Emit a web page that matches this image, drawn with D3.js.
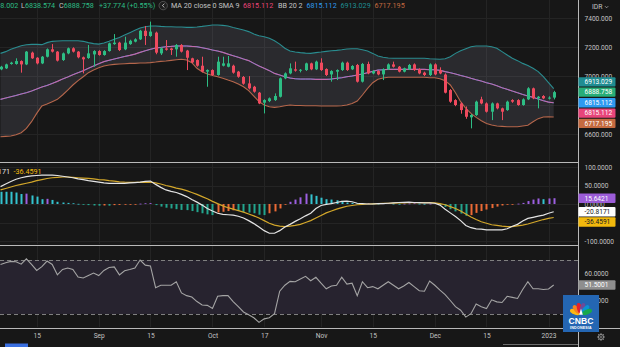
<!DOCTYPE html>
<html>
<head>
<meta charset="utf-8">
<script src="https://cdn.jsdelivr.net/npm/d3@7"></script>
<style>
  html, body { margin: 0; padding: 0; background: #171717; }
  svg { display: block; }
</style>
</head>
<body>
<svg id="chart" width="620" height="347"></svg>
<script>
// ---------------- data: daily candles, Aug 2022 - Jan 2023 ----------------
const open = [7046,7053,7083,7083,7103,7080,7161,7126,7087,7133, 7184,7168,7110,7156,7191,7168,7129,7124,7149,7172,
  7145,7172,7220,7230,7184,7220,7237,7253,7312,7276, 7299,7156,7190,7190,7184,7214,7175,7122,7110,7071,
  7030,7041,7007,7071,7064,7071,7030,6993,6949,6926, 6885,6816,6827,6834,6857,6984,7018,7046,7037,7041,
  7087,7046,7092,7048,7011,7030,7041,7092,7046,7076, 6961,7083,7018,7034,7011,7046,7080,7064,7030,7046,
  7080,7046,7023,7007,7080,7040,7010,6903,6834,6811, 6770,6715,6731,6839,6811,6754,6811,6777,6765,6834,
  6834,6800,6839,6915,6846,6862,6846,6851];
const high = [7070,7085,7098,7122,7108,7172,7168,7130,7138,7190, 7220,7172,7162,7196,7198,7172,7134,7214,7178,7178,
  7178,7230,7289,7236,7271,7250,7260,7318,7345,7375, 7306,7198,7248,7195,7220,7220,7180,7126,7115,7133,
  7046,7046,7133,7133,7138,7078,7035,7000,6999,6932, 6890,6840,6852,6880,6990,7025,7087,7099,7048,7092,
  7092,7106,7122,7053,7040,7046,7099,7099,7075,7083, 7090,7099,7040,7040,7053,7087,7099,7069,7058,7083,
  7087,7053,7030,7087,7087,7060,7018,6910,6840,6818, 6790,6738,6830,6857,6818,6818,6816,6782,6830,6840,
  6840,6846,6923,6920,6862,6868,6860,6898.002];
const low = [7040,7048,7078,7078,7023,7075,7118,7080,7082,7128, 7162,7100,7104,7150,7162,7122,7018,7118,7064,7140,
  7140,7168,7215,7172,7178,7215,7232,7248,7214,7270, 7150,7145,7175,7145,7133,7162,7041,7088,7064,7025,
  6926,7000,7002,7066,7060,7016,6988,6940,6908,6885, 6806,6742,6820,6828,6852,6978,7012,7030,7025,7035,
  7040,7041,7035,7000,6961,6972,7035,7035,7041,6955, 6955,7012,7012,7005,6972,7041,7058,7025,7025,7041,
  7035,7012,7000,7000,7005,7012,6880,6815,6792,6740, 6705,6639,6725,6805,6748,6696,6770,6696,6760,6815,
  6795,6795,6834,6840,6777,6840,6838,6838.574];
const close = [7064,7080,7092,7103,7080,7168,7122,7087,7133,7184, 7168,7106,7156,7191,7168,7129,7115,7156,7172,7145,
  7172,7225,7230,7179,7230,7243,7253,7312,7276,7306, 7161,7191,7181,7179,7214,7168,7126,7094,7071,7030,
  7041,7007,7099,7087,7087,7023,6995,6947,6915,6892, 6811,6834,6846,6862,6984,7018,7053,7037,7043,7087,
  7046,7099,7041,7007,7034,7041,7092,7041,7069,6961, 7083,7018,7034,7011,7046,7080,7064,7030,7053,7076,
  7041,7018,7007,7080,7011,7018,6885,6823,6800,6765, 6719,6731,6823,6811,6754,6811,6777,6754,6823,6823,
  6800,6839,6915,6846,6857,6846,6850.984,6888.758];

// Bollinger Bands (20, 2); the basis is also the MA 20 line
const bbUpper = [7156,7168,7184,7197,7209,7216,7218,7218,7216,7230, 7239,7241,7243,7243,7243,7243,7239,7230,7223,7220,
  7227,7239,7253,7266,7283,7299,7315,7331,7340,7345, 7345,7342,7340,7340,7338,7338,7335,7335,7338,7342,
  7347,7352,7352,7349,7345,7335,7326,7317,7306,7289, 7278,7271,7260,7243,7220,7191,7172,7165,7161,7158,
  7156,7161,7165,7170,7174,7177,7181,7186,7188,7188, 7181,7172,7156,7138,7129,7124,7122,7122,7122,7122,
  7122,7122,7122,7119,7117,7115,7119,7133,7156,7174, 7188,7202,7207,7207,7207,7202,7191,7168,7145,7122,
  7106,7087,7073,7053,7030,6995,6954,6913.029];
const bbBasis = [6839,6848,6857,6866,6876,6885,6896,6910,6924,6935, 6949,6963,6979,6993,7009,7023,7037,7053,7069,7085,
  7099,7108,7117,7126,7135,7142,7151,7163,7174,7184, 7193,7197,7202,7204,7207,7207,7207,7204,7202,7195,
  7188,7179,7172,7163,7151,7140,7129,7117,7106,7087, 7069,7053,7037,7018,7007,6995,6986,6981,6979,6979,
  6979,6977,6977,6977,6979,6984,6988,6995,7000,7007, 7014,7023,7032,7041,7043,7046,7046,7046,7046,7046,
  7046,7046,7046,7043,7043,7039,7030,7023,7014,7004, 6995,6984,6974,6965,6954,6945,6933,6919,6908,6896,
  6885,6873,6862,6853,6841,6830,6820,6815.112];
const bbLower = [6581,6584,6586,6595,6609,6639,6685,6742,6793,6807, 6823,6839,6869,6903,6938,6968,6995,7023,7041,7057,
  7069,7076,7080,7083,7085,7087,7087,7090,7090,7092, 7096,7101,7103,7108,7112,7115,7110,7092,7053,7030,
  7014,7004,6995,6984,6972,6961,6945,6926,6899,6862, 6823,6800,6788,6784,6788,6795,6800,6797,6797,6795,
  6795,6795,6793,6793,6793,6793,6795,6800,6811,6827, 6869,6915,6954,6977,6986,6991,6991,6991,6991,6991,
  6991,6991,6991,6988,6988,6981,6968,6938,6885,6823, 6777,6742,6715,6692,6673,6662,6655,6653,6650,6650,
  6650,6655,6660,6685,6706,6717,6719,6717.195];
const ma20 = bbBasis;

// MACD (12, 26, 9)
const macdLine = [47,54,61,67,71,74,76,77,78,78, 78,77,75,73,71,68,66,63,61,59, 57,56,56,56,56,57,58,59,61,62,
  53,45,38,34,31,26,20,12,5,-3, -12,-19,-25,-28,-29,-30,-33,-38,-45,-53, -62,-72,-79,-79,-72,-62,-55,-47,-40,-32,
  -25,-12,-4,-1,1,4,7,8,6,2, 1,0,0,1,1,2,3,4,4.5,5, 4,3.5,3,3,2,-3,-14,-24,-34,-45,
  -58,-64,-67,-68,-70,-70,-70,-70,-67,-60, -55,-46,-39,-36,-33,-30,-25,-20.8171];
const signalLine = [38,42,46,50,53,56,59,63,66,69, 71,72,73,73,72,71,70,69,68,66, 65,63,62,60,59,58.5,58.5,58.5,58.5,59,
  57,54,50,47,43,40,36,31,26,20, 14,7,1,-5,-10,-14,-18,-22,-27,-32, -38,-45,-52,-57,-60,-61,-60,-58,-55,-50,
  -45,-38,-31,-24,-19,-14,-10,-6,-4,-2, -1,0,0.5,1,1.5,2,2.5,3,3,3.5, 3.5,3.5,3.5,3.5,3,1,-2,-7,-12,-19,
  -27,-35,-42,-48,-52,-56,-58,-60,-61,-61, -59,-57,-54,-50,-46,-42,-39,-36.4591];
const macdHist = [33,33,33,31,27,28,23,20,13,14, 11,6,4,3,2,0.5,-1,-3,-4,-4.5, -4,-4.5,-3,-2.5,-2,-1,-0.5,1,2,2.5,
  -3,-7,-10,-12,-14,-16,-16.5,-19,-22,-25, -28,-30,-23,-21,-19,-17,-19,-22,-23,-25, -29,-30,-25,-20,-12,-1,6,12,18,28,
  26,22,17,13,12,10,7,4,3,2, 1,2,1.5,1,2,2.5,1,0.5,1,1.5, 2,1,0.5,1,2,-2,-8,-14,-20,-26,
  -32,-30,-24,-19,-15,-11,-7,-4,-1,-0.5, 1,3,8,12,15,13,15,15.6421];

// RSI (14)
const rsi = [66.7,68,69,68.7,66.9,70.8,66.7,62.3,65.1,69.2, 66.7,59,63,64.1,63,57.4,56.7,58.5,60.3,58.5,
  62.3,64.4,64.9,59,62,63,64.1,70,66.2,65.6, 49.5,51.3,51.3,51.3,53.8,45.6,43.6,42.6,39.2,36.7,
  36.4,34.1,43.1,43.6,43.6,39.2,35.4,31.5,29.5,27.2, 23.8,26.4,27.2,30.2,46.9,51.3,54.2,53.9,55.9,57.9,
  54.6,57.2,52.8,48.7,50.8,51.3,57.2,52.1,52.8,43.6, 53.9,49.5,50.3,48.7,51.3,53.9,51.3,48.7,50.8,53.3,
  50.3,47.2,46.9,54.4,51.3,47.7,44.4,40,35.4,32.8, 27.7,30.2,37.4,35.4,34.1,40.5,39,38.5,43.1,42.3,
  41.5,48.2,53.9,48.7,48.7,48.2,48.5,51.5001];

// time axis labels and the candle each one sits under
const timeLabels = ["15", "Sep", "15", "Oct", "17", "Nov", "15", "Dec", "15", "2023"];
const timeLabelIndex = [7, 19, 29, 41, 51, 62, 72, 84, 94, 106];
const priceTicks = [7400, 7200, 7000, 6800, 6600];
const macdTicks = [100, 50, 0, -50, -100];
const rsiTicks = [60, 40];
const rsiBands = [70, 30];

// ---------------- layout & style ----------------
const W = 620, H = 347;
const AXIS_X = 578;
const PANE = { price: [0, 161], macd: [163, 244], rsi: [246, 327] };
const TIME_Y = 328;
const FONT = "Roboto, 'Liberation Sans', Arial, sans-serif";
const C = {
  bg: "#171717", grid: "#242424", sep: "#b9b9b9", text: "#c4c4c4",
  up: "#2dbd84", down: "#ef4a5e",
  bbUpper: "#2a8c8f", bbLower: "#b5664b", bbFill: "rgba(165,165,190,0.14)",
  basis: "#2196f3", ma: "#e8629e",
  maLabel: "#e8457a", basisLabel: "#2e9af0", upperLabel: "#1f8d92", lowerLabel: "#c46a40", closeLabel: "#27ad78",
  macd: "#e4e4e4", signal: "#d3a72a", signalLabel: "#f2b90d", histLabel: "#9b5cd8",
  histUpRise: "#9c5fe0", histUpFall: "#34c3cf", histDnFall: "#23a58e", histDnRise: "#ec6a35",
  rsi: "#a4a4a4", rsiFill: "#27232f", rsiBand: "#808080", rsiLabel: "#8e8e8e"
};

const svg = d3.select("#chart");
const last = close.length - 1;

const x = d3.scaleLinear().domain([0, last]).range([0.51, 0.51 + 5.17 * last]);
const yP = d3.scaleLinear().domain([6414, 7524]).range([PANE.price[1], PANE.price[0]]);
const yM = d3.scaleLinear().domain([-100, 100]).range([241, 167]);
const yR = d3.scaleLinear().domain([30, 70]).range([314, 260]);
const px = i => Math.round(x(i)) + 0.5;
const idx = d3.range(close.length);

svg.append("rect").attr("width", W).attr("height", H).attr("fill", C.bg);

const defs = svg.append("defs");
Object.entries(PANE).forEach(([k, [a, b]]) => {
  defs.append("clipPath").attr("id", "clip-" + k)
    .append("rect").attr("x", 0).attr("y", a).attr("width", AXIS_X).attr("height", b - a);
});

// ---------------- grid ----------------
const grid = svg.append("g").attr("stroke", C.grid).attr("shape-rendering", "crispEdges");
timeLabelIndex.forEach(i => {
  Object.values(PANE).forEach(([a, b]) => {
    grid.append("line").attr("x1", px(i)).attr("x2", px(i)).attr("y1", a).attr("y2", b);
  });
});
const hGrid = (scale, ticks) => ticks.forEach(v => {
  const y = Math.round(scale(v)) + 0.5;
  grid.append("line").attr("x1", 0).attr("x2", AXIS_X).attr("y1", y).attr("y2", y);
});
hGrid(yP, priceTicks);
hGrid(yM, macdTicks);

// ---------------- price pane ----------------
const gPrice = svg.append("g").attr("clip-path", "url(#clip-price)");

gPrice.append("path").datum(idx)
  .attr("fill", C.bbFill)
  .attr("d", d3.area().x(i => x(i)).y0(i => yP(bbLower[i])).y1(i => yP(bbUpper[i])));

const priceLine = arr => d3.line().x(i => x(i)).y(i => yP(arr[i]));
gPrice.append("path").datum(idx).attr("fill", "none").attr("stroke", C.bbUpper).attr("stroke-width", 1.1).attr("d", priceLine(bbUpper));
gPrice.append("path").datum(idx).attr("fill", "none").attr("stroke", C.bbLower).attr("stroke-width", 1.1).attr("d", priceLine(bbLower));
gPrice.append("path").datum(idx).attr("fill", "none").attr("stroke", C.basis).attr("stroke-width", 1).attr("d", priceLine(bbBasis));
gPrice.append("path").datum(idx).attr("fill", "none").attr("stroke", C.ma).attr("stroke-opacity", 0.8).attr("stroke-width", 1.1).attr("d", priceLine(ma20));

const candles = gPrice.selectAll("g.candle").data(idx).join("g").attr("class", "candle");
candles.append("line")
  .attr("x1", i => px(i)).attr("x2", i => px(i))
  .attr("y1", i => yP(high[i])).attr("y2", i => yP(low[i]))
  .attr("stroke", i => close[i] >= open[i] ? C.up : C.down).attr("stroke-width", 1);
candles.append("rect")
  .attr("x", i => px(i) - 1.5).attr("width", 3)
  .attr("y", i => yP(Math.max(open[i], close[i])))
  .attr("height", i => Math.max(1, Math.abs(yP(open[i]) - yP(close[i]))))
  .attr("fill", i => close[i] >= open[i] ? C.up : C.down);

// ---------------- MACD pane ----------------
const gMacd = svg.append("g").attr("clip-path", "url(#clip-macd)");
const histColor = i => {
  const h = macdHist[i];
  const rising = i > 0 && h > macdHist[i - 1];
  if (h >= 0) return rising ? C.histUpRise : C.histUpFall;
  return rising ? C.histDnRise : C.histDnFall;
};
gMacd.selectAll("rect.hist").data(idx).join("rect").attr("class", "hist")
  .attr("x", i => px(i) - 1).attr("width", 2)
  .attr("y", i => Math.min(yM(0), yM(macdHist[i])))
  .attr("height", i => Math.max(0.8, Math.abs(yM(macdHist[i]) - yM(0))))
  .attr("fill", histColor);
const macdPath = arr => d3.line().x(i => x(i)).y(i => yM(arr[i]));
gMacd.append("path").datum(idx).attr("fill", "none").attr("stroke", C.signal).attr("stroke-width", 1.2).attr("d", macdPath(signalLine));
gMacd.append("path").datum(idx).attr("fill", "none").attr("stroke", C.macd).attr("stroke-width", 1.2).attr("d", macdPath(macdLine));

// ---------------- RSI pane ----------------
const gRsi = svg.append("g").attr("clip-path", "url(#clip-rsi)");
gRsi.append("rect").attr("x", 0).attr("width", AXIS_X)
  .attr("y", yR(rsiBands[0])).attr("height", yR(rsiBands[1]) - yR(rsiBands[0]))
  .attr("fill", C.rsiFill);
rsiBands.forEach(v => {
  gRsi.append("line").attr("x1", 0).attr("x2", AXIS_X).attr("y1", Math.round(yR(v)) + 0.5).attr("y2", Math.round(yR(v)) + 0.5)
    .attr("stroke", C.rsiBand).attr("stroke-dasharray", "4,3");
});
gRsi.append("path").datum(idx).attr("fill", "none").attr("stroke", C.rsi).attr("stroke-width", 1.1)
  .attr("d", d3.line().x(i => x(i)).y(i => yR(rsi[i])));

// ---------------- separators ----------------
const sep = svg.append("g").attr("stroke", C.sep).attr("shape-rendering", "crispEdges");
[162, 245].forEach(y => sep.append("line").attr("x1", 0).attr("x2", AXIS_X).attr("y1", y + 0.5).attr("y2", y + 0.5));
sep.append("line").attr("x1", 0).attr("x2", W).attr("y1", TIME_Y + 0.5).attr("y2", TIME_Y + 0.5);
sep.append("line").attr("x1", AXIS_X + 0.5).attr("x2", AXIS_X + 0.5).attr("y1", 0).attr("y2", H);

// ---------------- last-value badges: positions pushed apart so they never overlap ----------------
function layoutBadges(items, anchorKey) {
  items.forEach(d => d.pos = d.y);
  const order = items.slice().sort((a, b) => a.y - b.y);
  const gap = 10.3;
  const a = order.findIndex(d => d.key === anchorKey);
  for (let k = a - 1; k >= 0; k--) order[k].pos = Math.min(order[k].pos, order[k + 1].pos - gap);
  for (let k = a + 1; k < order.length; k++) order[k].pos = Math.max(order[k].pos, order[k - 1].pos + gap);
  return order;
}
const priceBadges = layoutBadges([
  { key: "upper", y: yP(bbUpper[last]), text: bbUpper[last].toFixed(3), bg: C.upperLabel },
  { key: "close", y: yP(close[last]), text: close[last].toFixed(3), bg: C.closeLabel },
  { key: "basis", y: yP(bbBasis[last]) - 0.01, text: bbBasis[last].toFixed(3), bg: C.basisLabel },
  { key: "ma", y: yP(ma20[last]), text: ma20[last].toFixed(3), bg: C.maLabel },
  { key: "lower", y: yP(bbLower[last]), text: bbLower[last].toFixed(3), bg: C.lowerLabel }
], "close");
const macdBadges = layoutBadges([
  { key: "hist", y: yM(macdHist[last]), text: macdHist[last].toFixed(4), bg: C.histLabel },
  { key: "macd", y: yM(macdLine[last]), text: macdLine[last].toFixed(4), bg: "#ffffff", fg: "#131722" },
  { key: "signal", y: yM(signalLine[last]), text: signalLine[last].toFixed(4), bg: C.signalLabel, fg: "#131722" }
], "macd");
const rsiBadges = layoutBadges([
  { key: "rsi", y: yR(rsi[last]), text: rsi[last].toFixed(4), bg: C.rsiLabel }
], "rsi");
const allBadges = priceBadges.concat(macdBadges, rsiBadges);

// ---------------- axes (tick labels sitting right under a badge are hidden) ----------------
function rightAxis(scale, ticks, digits) {
  const g = svg.append("g").attr("transform", `translate(${AXIS_X},0)`)
    .call(d3.axisRight(scale).tickValues(ticks).tickFormat(v => v.toFixed(digits)).tickSize(0).tickPadding(6.5));
  g.select(".domain").remove();
  g.attr("font-family", FONT).attr("font-size", 6.6);
  g.selectAll(".tick").filter(v => allBadges.some(b => Math.abs(b.pos - scale(v)) < 4.5)).remove();
  g.selectAll("text").attr("fill", C.text);
}
rightAxis(yP, priceTicks, 3);
rightAxis(yM, macdTicks, 4);
rightAxis(yR, rsiTicks, 4);

const tAxis = svg.append("g").attr("transform", `translate(0,${TIME_Y})`)
  .call(d3.axisBottom(x).tickValues(timeLabelIndex).tickFormat((d, k) => timeLabels[k]).tickSize(0).tickPadding(5.6));
tAxis.select(".domain").remove();
tAxis.attr("font-family", FONT).attr("font-size", 6.6);
tAxis.selectAll("text").attr("fill", C.text);

const gBadge = svg.append("g").attr("font-family", FONT).attr("font-size", 6.6);
allBadges.forEach(d => {
  gBadge.append("rect").attr("x", AXIS_X + 0.5).attr("y", d.pos - 4.7).attr("width", 37).attr("height", 9.4)
    .attr("rx", 1).attr("fill", d.bg);
  gBadge.append("text").attr("x", AXIS_X + 6.5).attr("y", d.pos).attr("dy", "0.35em")
    .attr("fill", d.fg || "#ffffff").text(d.text);
});

// ---------------- legends ----------------
const change = close[last] - close[last - 1];
const pct = change / close[last - 1] * 100;
const hdr = svg.append("g").attr("font-family", FONT).attr("font-size", 7.2);
const HY = 7.8;
function pair(xPos, label, value, color, anchor) {
  const t = hdr.append("text").attr("x", xPos).attr("y", HY).attr("text-anchor", anchor || "start");
  t.append("tspan").attr("fill", C.text).text(label);
  t.append("tspan").attr("fill", color).text(value);
}
pair(18.3, "H", high[last].toFixed(3), C.up, "end");
pair(21, "L", low[last].toFixed(3), C.up);
pair(59, "C", close[last].toFixed(3), C.up);
hdr.append("text").attr("x", 99).attr("y", HY).attr("fill", C.up)
  .text(`+${change.toFixed(3)} (+${pct.toFixed(2)}%)`);
hdr.append("circle").attr("cx", 163.2).attr("cy", 5.6).attr("r", 4.2).attr("fill", "#1f1f1f").attr("stroke", "#5a5a5a").attr("stroke-width", 0.8);
hdr.append("path").attr("d", "M164.4,3.7 L162.4,5.6 L164.4,7.5").attr("fill", "none").attr("stroke", "#d8d8d8").attr("stroke-width", 0.8);
hdr.append("text").attr("x", 171).attr("y", HY).attr("fill", C.text).text("MA 20 close 0 SMA 9");
hdr.append("text").attr("x", 243).attr("y", HY).attr("fill", C.maLabel).text(ma20[last].toFixed(3));
hdr.append("text").attr("x", 278).attr("y", HY).attr("fill", C.text).text("BB 20 2");
hdr.append("text").attr("x", 306.5).attr("y", HY).attr("fill", C.basisLabel).text(bbBasis[last].toFixed(3));
hdr.append("text").attr("x", 340.5).attr("y", HY).attr("fill", C.upperLabel).text(bbUpper[last].toFixed(3));
hdr.append("text").attr("x", 374.5).attr("y", HY).attr("fill", C.lowerLabel).text(bbLower[last].toFixed(3));

const mLeg = svg.append("g").attr("font-family", FONT).attr("font-size", 7.2);
mLeg.append("text").attr("x", 10).attr("y", 174).attr("text-anchor", "end").attr("fill", C.macd).text(macdLine[last].toFixed(4));
mLeg.append("text").attr("x", 13.5).attr("y", 174).attr("fill", C.signalLabel).text(signalLine[last].toFixed(4));

// currency selector
svg.append("text").attr("x", 592).attr("y", 9.3).attr("font-family", FONT).attr("font-size", 6.8).attr("fill", C.text).text("IDR");
svg.append("path").attr("d", "M605,6.2 L606.6,7.8 L608.2,6.2").attr("fill", "none").attr("stroke", C.text).attr("stroke-width", 0.7);

// settings gear
const gear = svg.append("g").attr("transform", "translate(601,337)").attr("stroke", "#9a9a9a").attr("fill", "none");
gear.append("circle").attr("r", 2.6).attr("stroke-width", 0.9);
gear.append("circle").attr("r", 1).attr("stroke-width", 0.7);
d3.range(8).forEach(k => {
  const a = k * Math.PI / 4;
  gear.append("line").attr("x1", 2.6 * Math.cos(a)).attr("y1", 2.6 * Math.sin(a))
    .attr("x2", 3.8 * Math.cos(a)).attr("y2", 3.8 * Math.sin(a)).attr("stroke-width", 1);
});

// toolbar remnants along the bottom edge
svg.append("rect").attr("x", 5).attr("y", 343.5).attr("width", 23).attr("height", 3.5).attr("fill", "#3a6fe0");
svg.append("line").attr("x1", 503).attr("x2", AXIS_X).attr("y1", 344.5).attr("y2", 344.5).attr("stroke", "#6c6c6c");

// ---------------- CNBC Indonesia mark ----------------
const logo = svg.append("g").attr("transform", "translate(563,295)");
logo.append("rect").attr("width", 36).attr("height", 37).attr("fill", "#2466b3");
const feathers = ["#fdb913", "#f58220", "#e4202e", "#6a4c9c", "#0a93d4", "#17a84b"];
feathers.forEach((col, k) => {
  const a = -68 + k * 27.2;
  const r = a * Math.PI / 180;
  const cx = 18 + 6.6 * Math.sin(r), cy = 19.5 - 6.6 * Math.cos(r);
  logo.append("ellipse").attr("cx", cx).attr("cy", cy).attr("rx", 2.5).attr("ry", 5.2)
    .attr("transform", `rotate(${a},${cx},${cy})`).attr("fill", col);
});
logo.append("path").attr("d", "M16.2,19.8 L18,13.6 L19.8,19.8 Z").attr("fill", "#ffffff");
logo.append("text").attr("x", 18).attr("y", 28.6).attr("text-anchor", "middle")
  .attr("font-family", "'Liberation Sans', Arial, sans-serif").attr("font-weight", "bold").attr("font-size", 8.6)
  .attr("fill", "#ffffff").text("CNBC");
logo.append("text").attr("x", 18).attr("y", 33.6).attr("text-anchor", "middle")
  .attr("font-family", "'Liberation Sans', Arial, sans-serif").attr("font-weight", "bold").attr("font-size", 3.6)
  .attr("fill", "#ffffff").attr("letter-spacing", 0.2).text("INDONESIA");
</script>
</body>
</html>
